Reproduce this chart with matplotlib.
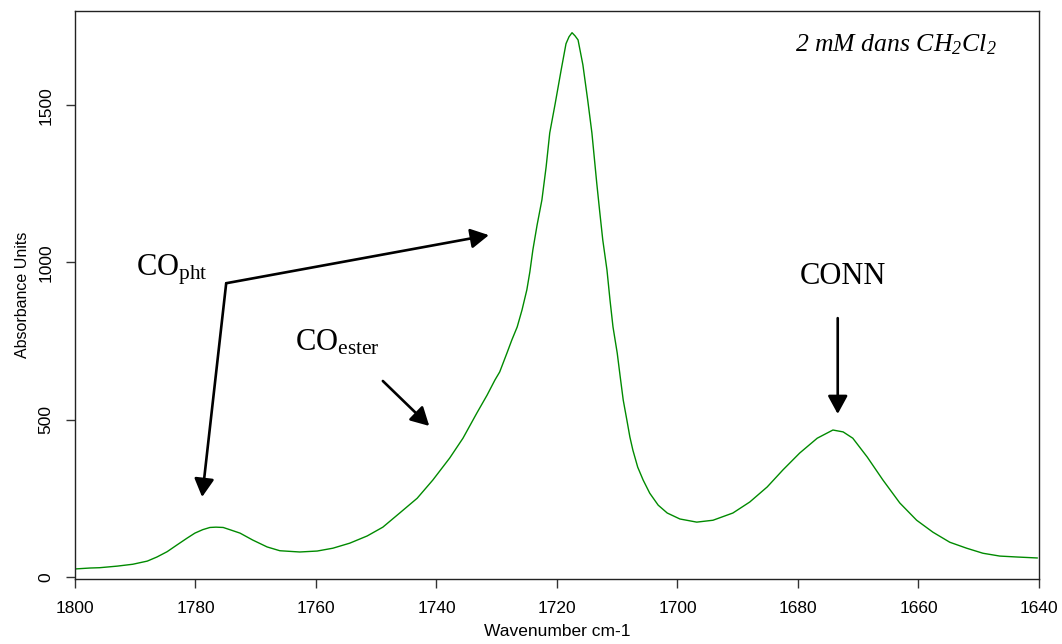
import matplotlib
matplotlib.use("Agg")
import matplotlib.pyplot as plt

# spectre IR (nombre d'onde, absorbance)
wavenumber = [1800.0, 1797.5, 1795.9, 1793.0, 1790.4, 1788.0, 1786.4, 1784.7, 1783.1, 1781.4,
              1780.1, 1778.8, 1777.6, 1776.6, 1775.4, 1774.3, 1772.6, 1770.5, 1768.1, 1766.0,
              1762.7, 1759.8, 1757.2, 1754.4, 1751.5, 1748.9, 1746.1, 1743.2, 1740.6, 1737.8,
              1735.6, 1733.3, 1731.6, 1730.3, 1729.5, 1728.3, 1727.5, 1726.6, 1725.8, 1725.0,
              1724.5, 1724.0, 1723.3, 1722.5, 1721.8, 1721.2, 1720.3, 1719.3, 1718.5, 1718.0,
              1717.5, 1717.0, 1716.5, 1715.7, 1714.9, 1714.2, 1713.4, 1712.9, 1712.4, 1711.7,
              1711.2, 1710.7, 1710.0, 1709.5, 1709.0, 1708.4, 1707.9, 1707.4, 1706.6, 1705.7,
              1704.6, 1703.2, 1701.7, 1699.6, 1696.8, 1694.1, 1690.8, 1688.0, 1685.1, 1682.5,
              1679.7, 1676.8, 1674.2, 1672.5, 1670.9, 1668.5, 1665.9, 1663.1, 1660.3, 1657.6,
              1654.8, 1652.0, 1649.3, 1646.5, 1643.6, 1640.3]
absorbance = [25, 28, 29, 34, 40, 50, 63, 80, 101, 123,
              139, 150, 157, 158, 157, 150, 139, 117, 95, 83,
              79, 82, 91, 107, 130, 158, 203, 250, 308, 378,
              441, 521, 578, 626, 652, 712, 753, 795, 849, 913,
              970, 1040, 1119, 1199, 1304, 1412, 1505, 1613, 1696, 1718,
              1731, 1721, 1708, 1629, 1517, 1412, 1253, 1161, 1072, 976,
              881, 795, 712, 636, 562, 499, 445, 403, 349, 308,
              266, 228, 203, 184, 174, 180, 203, 238, 286, 340,
              394, 441, 467, 461, 441, 381, 308, 235, 180, 142,
              110, 91, 75, 66, 63, 60]

x_ticks = [1800, 1780, 1760, 1740, 1720, 1700, 1680, 1660, 1640]
y_ticks = [0, 500, 1000, 1500]

plt.rcParams['font.family'] = ['Liberation Sans', 'DejaVu Sans']
plt.rcParams['mathtext.fontset'] = 'custom'
# rm/it en italique pour les indices de CH2Cl2, sf droit pour pht / ester
plt.rcParams['mathtext.rm'] = 'Liberation Serif:italic'
plt.rcParams['mathtext.it'] = 'Liberation Serif:italic'
plt.rcParams['mathtext.sf'] = 'Liberation Serif'

fig = plt.figure(figsize=(10.62, 6.44), dpi=100)
ax = fig.add_axes([0.0706, 0.1009, 0.9077, 0.882])

ax.plot(wavenumber, absorbance, color='#008a00', lw=1.0)

ax.set_xlim(1800, 1640)
ax.set_ylim(-7, 1800)
ax.set_xticks(x_ticks)
ax.set_yticks(y_ticks)
ax.set_yticklabels([str(v) for v in y_ticks], rotation=90, va='center')
ax.tick_params(axis='both', labelsize=12.5, length=6.5, width=1, color='#333333')
ax.tick_params(axis='x', pad=9)
ax.tick_params(axis='y', pad=9)
for s in ax.spines.values():
    s.set_linewidth(1.0)
    s.set_color('#222222')

ax.set_xlabel('Wavenumber cm-1', fontsize=12.5, labelpad=6)
ax.set_ylabel('Absorbance Units', fontsize=11.5, labelpad=6)

# annotations
serif = ['Liberation Serif', 'DejaVu Serif']
arrow = dict(arrowstyle='-|>,head_length=0.55,head_width=0.3', lw=1.9,
             color='black', mutation_scale=20, shrinkA=0, shrinkB=0)

ax.text(1789.9, 957, r'CO$_{\mathsf{pht}}$', fontsize=22, family=serif, va='baseline')
ax.annotate('', xy=(1731.3, 1087), xytext=(1774.9, 934), arrowprops=arrow)
ax.annotate('', xy=(1778.9, 254), xytext=(1774.9, 934), arrowprops=arrow)

ax.text(1763.5, 721, r'CO$_{\mathsf{ester}}$', fontsize=22, family=serif, va='baseline')
ax.annotate('', xy=(1741.2, 480), xytext=(1748.9, 623), arrowprops=arrow)

ax.text(1679.7, 931, 'CONN', fontsize=22, family=serif, va='baseline')
ax.annotate('', xy=(1673.4, 518), xytext=(1673.4, 823), arrowprops=arrow)

ax.text(1680.5, 1673, r'2 mM dans CH$_2$Cl$_2$', fontsize=18.5, family=serif,
        style='italic', va='baseline')

fig.savefig('out.png', dpi=100)
